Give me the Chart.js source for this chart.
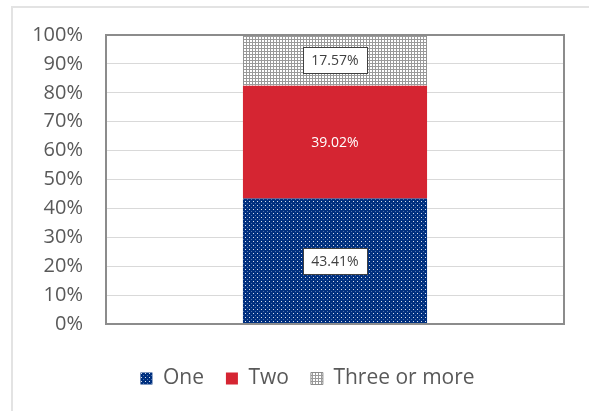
<!DOCTYPE html>
<html lang="en">
<head>
  <meta charset="UTF-8" />
  <title>Stacked share</title>
  <style>
    *{box-sizing:border-box;margin:0;padding:0;}
    body{background:#fff;width:589px;height:411px;overflow:hidden;position:relative;}
    #frame{position:absolute;left:11px;top:6px;right:-5px;bottom:-5px;border-left:2px solid #e3e3e3;border-top:2px solid #e3e3e3;}
    #chart{position:absolute;left:0;top:0;}
  </style>
</head>
<body>
  <div id="frame"></div>
  <canvas id="chart" width="589" height="411"></canvas>

  <script src="https://cdn.jsdelivr.net/npm/chart.js@4.4.1/dist/chart.umd.min.js"></script>
  <script>
  /* data */
  const categories=[''];
  const seriesNames=['One','Two','Three or more'];
  const oneVals=[43.41];
  const twoVals=[39.02];
  const threeVals=[17.57];
  const yTicks=[0,10,20,30,40,50,60,70,80,90,100];

  /* patterns */
  function dotPattern(){
    const c=document.createElement('canvas');c.width=4;c.height=4;
    const g=c.getContext('2d');
    g.fillStyle='#00307f';g.fillRect(0,0,4,4);
    g.fillStyle='rgba(255,255,255,0.85)';g.fillRect(1,1,1,1);
    g.fillStyle='rgba(180,200,235,0.45)';g.fillRect(3,3,1,1);
    return g.createPattern(c,'repeat');
  }
  function gridPattern(){
    const c=document.createElement('canvas');c.width=3;c.height=3;
    const g=c.getContext('2d');
    g.fillStyle='#9a9a9a';g.fillRect(0,0,3,3);
    g.fillStyle='#ffffff';g.fillRect(1,1,2,2);
    return g.createPattern(c,'repeat');
  }

  const FONT='"Open Sans", sans-serif';

  /* labels on segments + plot frame */
  const extras={
    id:'extras',
    afterLayout(chart){
      // centre legend on the whole canvas rather than the padded box
      chart.legend.left+=51;
    },
    afterDatasetsDraw(chart){
      const ctx=chart.ctx;
      ctx.save();
      chart.data.datasets.forEach((ds,i)=>{
        chart.getDatasetMeta(i).data.forEach((bar,j)=>{
          const txt=ds.data[j].toFixed(2)+'%';
          const y=(bar.y+bar.base)/2;
          ctx.font='14px '+FONT;
          ctx.textAlign='center';ctx.textBaseline='middle';
          if(ds.boxed){
            const w=64,h=26;
            ctx.fillStyle='#fff';ctx.fillRect(bar.x-w/2,y-h/2,w,h);
            ctx.strokeStyle='#404040';ctx.lineWidth=1;
            ctx.strokeRect(Math.round(bar.x-w/2)+0.5,Math.round(y-h/2)+0.5,w,h);
            ctx.fillStyle='#404040';
          }else{
            ctx.fillStyle='#ffffff';
          }
          ctx.fillText(txt,bar.x,y+1);
        });
      });
      const a=chart.chartArea;
      ctx.strokeStyle='#8c8c8c';ctx.lineWidth=2;
      ctx.strokeRect(a.left,a.top,a.right-a.left,a.bottom-a.top);
      ctx.restore();
    }
  };

  new Chart(document.getElementById('chart'),{
    type:'bar',
    data:{
      labels:categories,
      datasets:[
        {label:seriesNames[0],data:oneVals,backgroundColor:dotPattern(),borderWidth:0,boxed:true},
        {label:seriesNames[1],data:twoVals,backgroundColor:'#d52532',borderWidth:0,boxed:false},
        {label:seriesNames[2],data:threeVals,backgroundColor:gridPattern(),borderColor:'#8c8c8c',borderWidth:1,boxed:true}
      ]
    },
    options:{
      responsive:false,
      animation:false,
      layout:{padding:{left:0,right:25,top:35,bottom:12}},
      datasets:{bar:{categoryPercentage:1,barPercentage:0.402}},
      scales:{
        x:{
          stacked:true,
          afterFit(s){s.height=22;},
          grid:{display:false},border:{display:false},ticks:{display:false}
        },
        y:{
          stacked:true,min:0,max:100,
          afterFit(s){s.width=106;},
          afterBuildTicks(s){s.ticks=yTicks.map(v=>({value:v}));},
          border:{display:false},
          grid:{color:'#d9d9d9',lineWidth:1,drawTicks:false},
          ticks:{padding:23,color:'#595959',font:{family:FONT,size:20},callback:v=>v+'%'}
        }
      },
      plugins:{
        legend:{
          position:'bottom',
          labels:{boxWidth:12,boxHeight:12,padding:22,color:'#595959',font:{family:FONT,size:21}}
        },
        tooltip:{enabled:false}
      }
    },
    plugins:[extras]
  });
  </script>
</body>
</html>
